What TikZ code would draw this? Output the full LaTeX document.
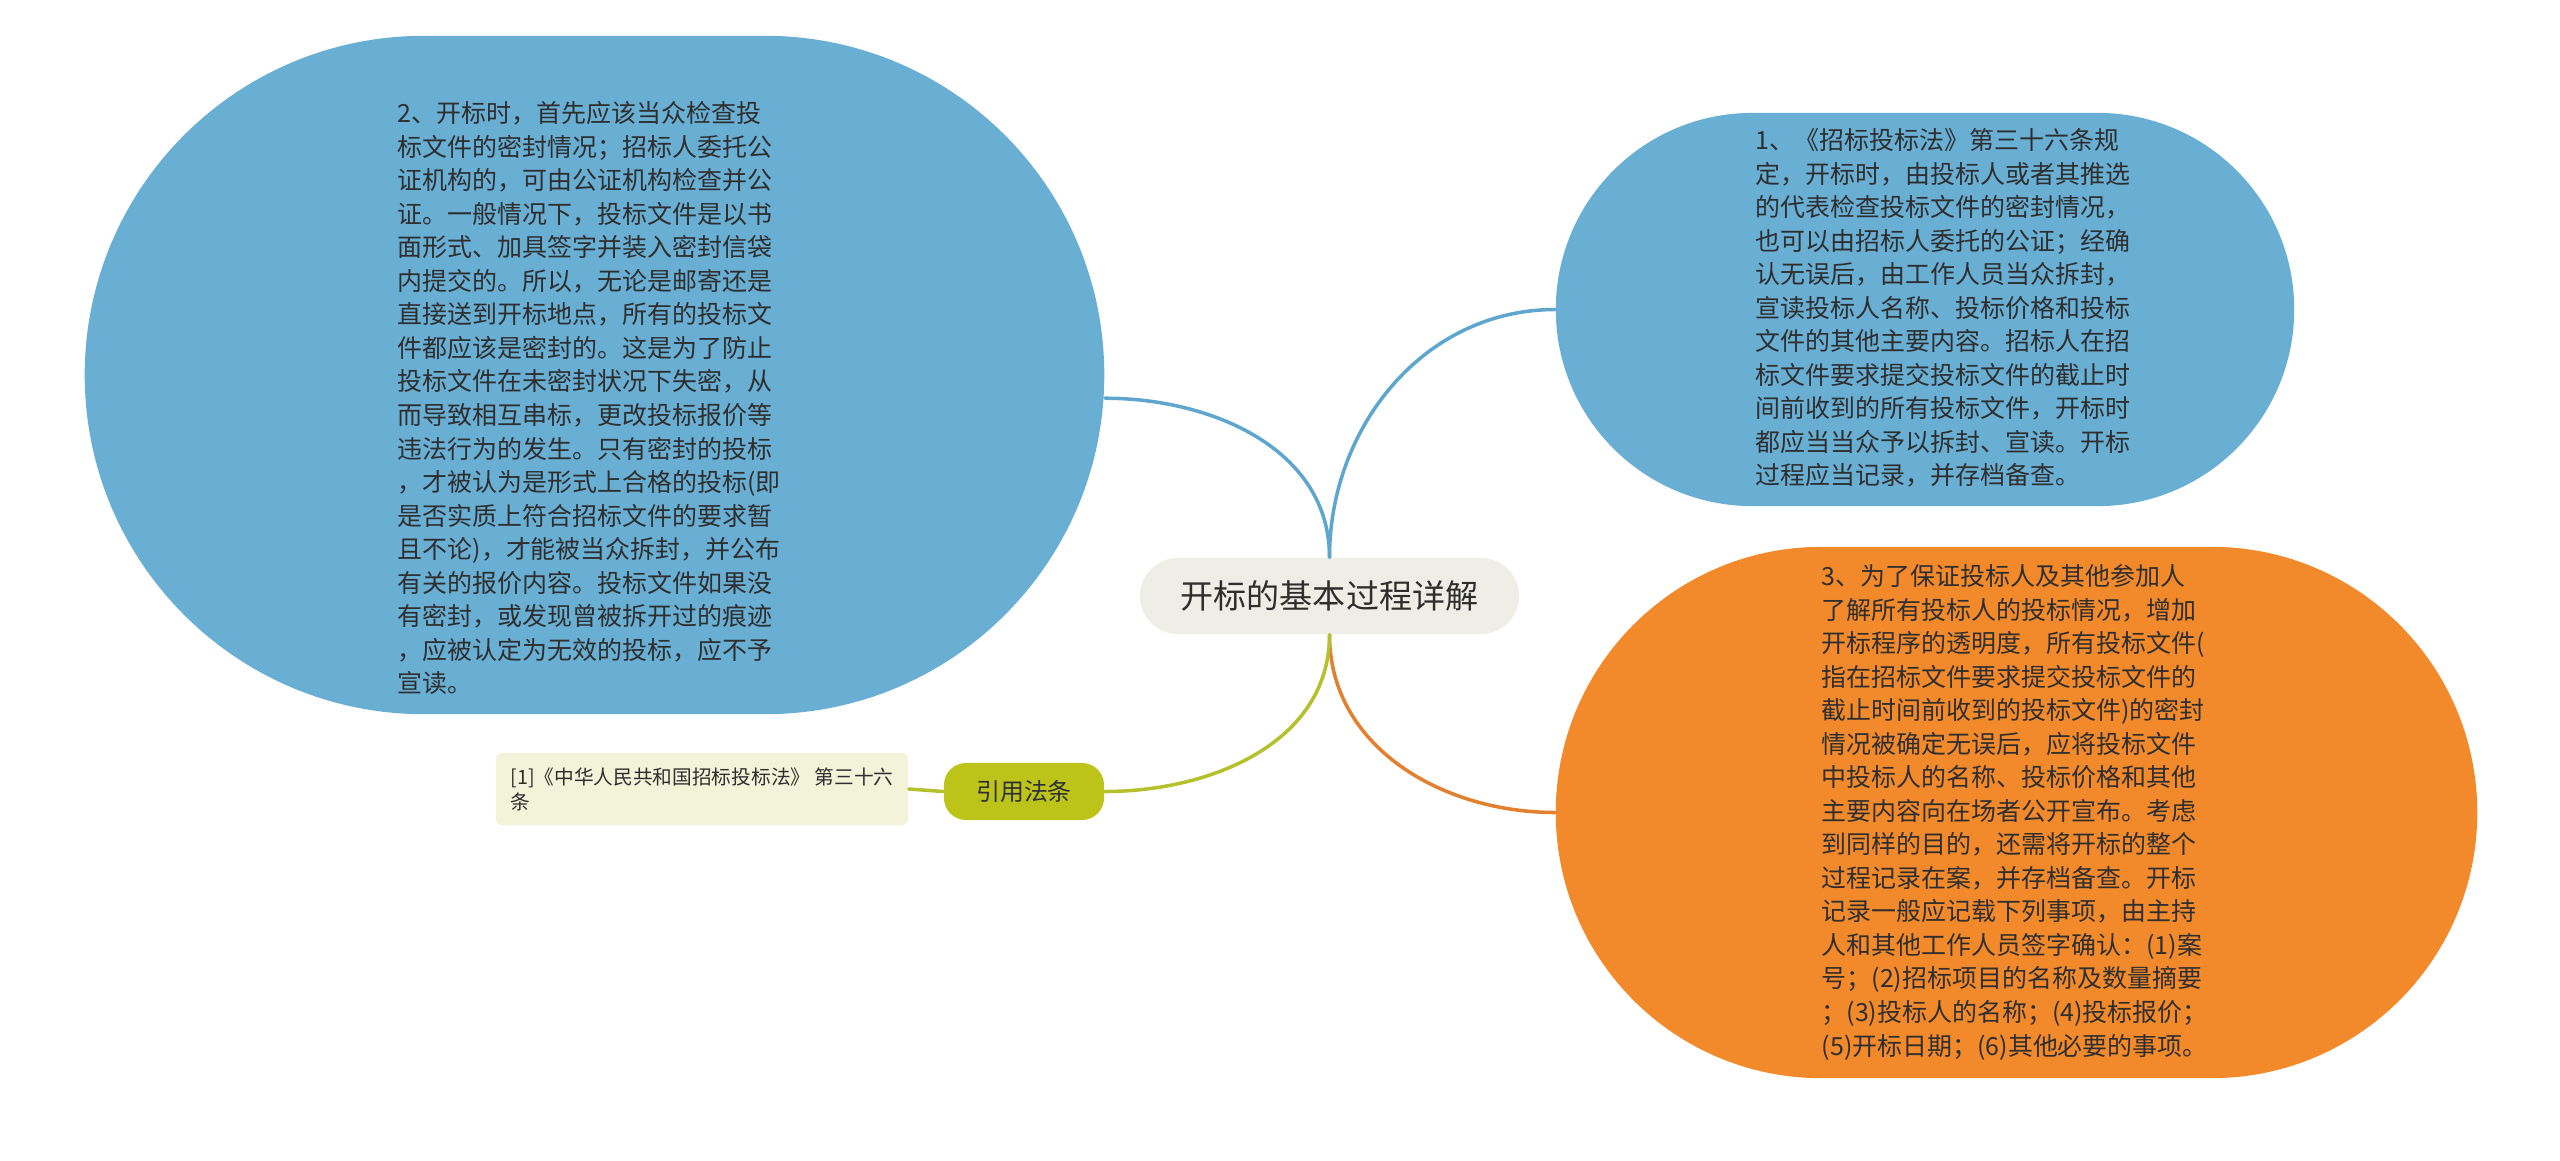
\documentclass[tikz,border=0pt]{standalone}
\usepackage{fontspec}
\setmainfont{Noto Sans CJK SC}
\usepackage{tikz}
\usetikzlibrary{positioning}
\definecolor{bubbleblue}{HTML}{69AED3}
\definecolor{lineblue}{HTML}{5FA6CE}
\definecolor{bubbleorange}{HTML}{F28A2B}
\definecolor{lineorange}{HTML}{E2802F}
\definecolor{lawolive}{HTML}{BCC41A}
\definecolor{lineolive}{HTML}{B4C02C}
\definecolor{rootgray}{HTML}{EFEEE6}
\definecolor{refcream}{HTML}{F2F3D8}
\definecolor{inkgray}{HTML}{2E2E2E}
\tikzset{
  bubble/.style={inner sep=0pt, text=inkgray},
  para/.style={inner sep=0pt, anchor=north west, align=left, text=inkgray,
    font=\fontsize{7.1pt}{9.53pt}\selectfont},
  branch/.style={line width=1pt, line cap=round}
}
\begin{document}
\begin{tikzpicture}[x=0.01cm, y=-0.01cm]
        \useasboundingbox (0,0) rectangle (2560,1160);
        \node (root) [bubble, fill=rootgray, minimum width=3.79cm, minimum height=0.76cm, rounded corners=0.38cm, font=\fontsize{9.4pt}{11pt}\selectfont] at (1329.5,596) {开标的基本过程详解};
        \node (lnode) [bubble, fill=bubbleblue, minimum width=10.19cm, minimum height=6.78cm, rounded corners=3.39cm] at (594.5,375) {};
        \node (rnode) [bubble, fill=bubbleblue, minimum width=7.38cm, minimum height=3.93cm, rounded corners=1.965cm] at (1925,309.5) {};
        \node (onode) [bubble, fill=bubbleorange, minimum width=9.21cm, minimum height=5.31cm, rounded corners=2.655cm] at (2016.5,812.5) {};
        \node (law) [bubble, fill=lawolive, minimum width=1.6cm, minimum height=0.57cm, rounded corners=0.22cm, font=\fontsize{6.8pt}{8pt}\selectfont] at (1024,791.5) {引用法条};
        \node (ref) [bubble, fill=refcream, minimum width=4.12cm, minimum height=0.72cm, rounded corners=0.06cm, align=left, font=\fontsize{5.6pt}{7.1pt}\selectfont] at (702,789) {[1]《中华人民共和国招标投标法》 第三十六\\条};
        \node (ltext) [para] at (397,101) {2、开标时，首先应该当众检查投\\标文件的密封情况；招标人委托公\\证机构的，可由公证机构检查并公\\证。一般情况下，投标文件是以书\\面形式、加具签字并装入密封信袋\\内提交的。所以，无论是邮寄还是\\直接送到开标地点，所有的投标文\\件都应该是密封的。这是为了防止\\投标文件在未密封状况下失密，从\\而导致相互串标，更改投标报价等\\违法行为的发生。只有密封的投标\\，才被认为是形式上合格的投标(即\\是否实质上符合招标文件的要求暂\\且不论)，才能被当众拆封，并公布\\有关的报价内容。投标文件如果没\\有密封，或发现曾被拆开过的痕迹\\，应被认定为无效的投标，应不予\\宣读。};
        \node (rtext) [para] at (1755,128) {1、《招标投标法》第三十六条规\\定，开标时，由投标人或者其推选\\的代表检查投标文件的密封情况，\\也可以由招标人委托的公证；经确\\认无误后，由工作人员当众拆封，\\宣读投标人名称、投标价格和投标\\文件的其他主要内容。招标人在招\\标文件要求提交投标文件的截止时\\间前收到的所有投标文件，开标时\\都应当当众予以拆封、宣读。开标\\过程应当记录，并存档备查。};
        \node (otext) [para] at (1821,564) {3、为了保证投标人及其他参加人\\了解所有投标人的投标情况，增加\\开标程序的透明度，所有投标文件(\\指在招标文件要求提交投标文件的\\截止时间前收到的投标文件)的密封\\情况被确定无误后，应将投标文件\\中投标人的名称、投标价格和其他\\主要内容向在场者公开宣布。考虑\\到同样的目的，还需将开标的整个\\过程记录在案，并存档备查。开标\\记录一般应记载下列事项，由主持\\人和其他工作人员签字确认：(1)案\\号；(2)招标项目的名称及数量摘要\\；(3)投标人的名称；(4)投标报价；\\(5)开标日期；(6)其他必要的事项。};
        \draw[branch, lineblue] (root.north) to[out=90, in=0] (ltext.center -| lnode.east);
        \draw[branch, lineblue] (root.north) to[out=90, in=180] (rnode.west);
        \draw[branch, lineorange] (root.south) to[out=-90, in=180] (onode.west);
        \draw[branch, lineolive] (root.south) to[out=-90, in=0] (law.east);
        \draw[branch, lineolive] (law.west) -- (ref.east);
    \end{tikzpicture}
\end{document}
